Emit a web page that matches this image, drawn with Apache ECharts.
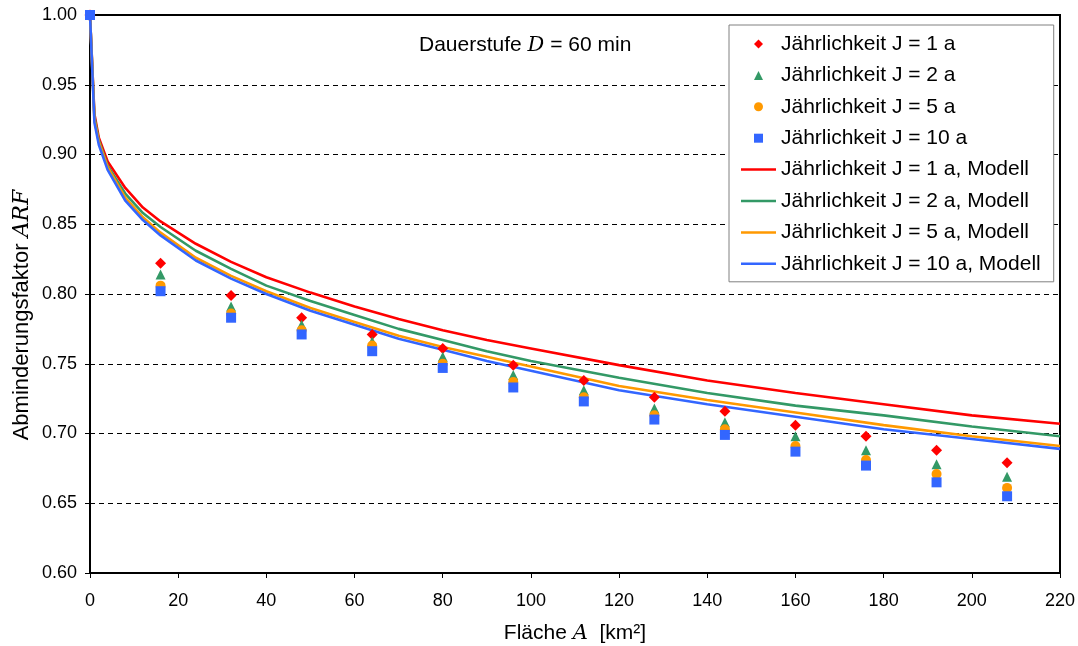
<!DOCTYPE html>
<html>
<head>
<meta charset="utf-8">
<script src="https://cdn.jsdelivr.net/npm/echarts@6/dist/echarts.min.js"></script>
<style>
html,body{margin:0;padding:0;background:#fff;}
#c{width:1078px;height:646px;}
</style>
</head>
<body>
<div id="c"></div>
<script>
// ---- Data ----
const pointArea = [0, 16, 32, 48, 64, 80, 96, 112, 128, 144, 160, 176, 192, 208];
const obsJ1  = [1.000, 0.822, 0.799, 0.783, 0.771, 0.761, 0.749, 0.738, 0.726, 0.716, 0.706, 0.698, 0.688, 0.679];
const obsJ2  = [1.000, 0.814, 0.791, 0.778, 0.766, 0.755, 0.742, 0.731, 0.718, 0.708, 0.698, 0.688, 0.678, 0.669];
const obsJ5  = [1.000, 0.806, 0.786, 0.774, 0.763, 0.750, 0.737, 0.726, 0.713, 0.703, 0.691, 0.681, 0.671, 0.661];
const obsJ10 = [1.000, 0.802, 0.783, 0.771, 0.759, 0.747, 0.733, 0.723, 0.710, 0.699, 0.687, 0.677, 0.665, 0.655];

const modelArea = [0, 1, 2, 4, 8, 12, 16, 24, 32, 40, 50, 60, 70, 80, 90, 100, 120, 140, 160, 180, 200, 220];
const modJ1  = [1.000, 0.929, 0.912, 0.895, 0.876, 0.862, 0.852, 0.836, 0.823, 0.812, 0.801, 0.791, 0.782, 0.774, 0.767, 0.761, 0.749, 0.738, 0.729, 0.721, 0.713, 0.707];
const modJ2  = [1.000, 0.927, 0.910, 0.892, 0.872, 0.858, 0.848, 0.831, 0.818, 0.806, 0.795, 0.785, 0.775, 0.767, 0.759, 0.752, 0.740, 0.729, 0.720, 0.713, 0.705, 0.698];
const modJ5  = [1.000, 0.925, 0.909, 0.891, 0.869, 0.855, 0.844, 0.826, 0.813, 0.802, 0.790, 0.780, 0.770, 0.762, 0.755, 0.748, 0.734, 0.724, 0.715, 0.706, 0.698, 0.691];
const modJ10 = [1.000, 0.923, 0.907, 0.889, 0.867, 0.853, 0.842, 0.824, 0.811, 0.800, 0.788, 0.778, 0.768, 0.760, 0.752, 0.745, 0.731, 0.721, 0.712, 0.703, 0.696, 0.689];

const obsNames = ['Jährlichkeit J = 1 a', 'Jährlichkeit J = 2 a', 'Jährlichkeit J = 5 a', 'Jährlichkeit J = 10 a'];
const modNames = ['Jährlichkeit J = 1 a, Modell', 'Jährlichkeit J = 2 a, Modell', 'Jährlichkeit J = 5 a, Modell', 'Jährlichkeit J = 10 a, Modell'];
const colors = ['#FF0000', '#339966', '#FF9900', '#3366FF'];
const symbols = ['diamond', 'triangle', 'circle', 'rect'];
const symbolSizes = [11, 10, 10, 10];
const legendIcons = [
  'path://M0,-1L1,0L0,1L-1,0Z',
  'path://M0,-1L1,1L-1,1Z',
  'circle',
  'path://M0,0L1,0L1,1L0,1Z'
];
const lineIcon = 'path://M0,0L35,0L35,2.5L0,2.5Z';

function pairs(xs, ys) { return xs.map((x, i) => [x, ys[i]]); }

const FONT = 'Liberation Sans, Arial, sans-serif';
const SERIF = 'DejaVu Serif, Liberation Serif, serif';
const BIG = 21;
const obsData = [obsJ1, obsJ2, obsJ5, obsJ10];
const modData = [modJ1, modJ2, modJ5, modJ10];

const series = [];
modData.forEach((d, i) => {
  series.push({
    name: modNames[i], type: 'line', data: pairs(modelArea, d),
    symbol: 'none', smooth: false,
    lineStyle: { color: colors[i], width: 2.6 }, itemStyle: { color: colors[i] },
    z: 2, animation: false
  });
});
obsData.forEach((d, i) => {
  series.push({
    name: obsNames[i], type: 'scatter', data: pairs(pointArea, d),
    symbol: symbols[i], symbolSize: symbolSizes[i],
    itemStyle: { color: colors[i], opacity: 1 }, z: 3 + i, animation: false
  });
});

const legendData = obsNames.map((n, i) => ({ name: n, icon: legendIcons[i], itemStyle: { color: colors[i] } }))
  .concat(modNames.map((n, i) => ({ name: n, icon: lineIcon, itemStyle: { color: colors[i] } })));

function rich(size) {
  return {
    n: { fontFamily: FONT, fontSize: size, fill: '#000', color: '#000', fontWeight: 'normal' },
    i: { fontFamily: SERIF, fontStyle: 'italic', fontSize: size, fill: '#000', color: '#000', fontWeight: 'normal' }
  };
}

const chart = echarts.init(document.getElementById('c'), null, { renderer: 'canvas' });
chart.setOption({
  animation: false,
  textStyle: { fontFamily: FONT },
  grid: { left: 90, right: 18, top: 15, bottom: 73, show: true, borderColor: '#000', borderWidth: 2, backgroundColor: 'transparent', outerBoundsMode: 'none', containLabel: false },
  title: {
    left: 414, top: 30,
    text: '{n|Dauerstufe }{i|D}{n| = 60 min}',
    textStyle: { fontWeight: 'normal', rich: rich(BIG) }
  },
  graphic: [{
    type: 'text', x: 22, y: 315, rotation: Math.PI / 2,
    style: {
      text: '{n|Abminderungsfaktor }{i|ARF}',
      rich: rich(22), align: 'center', verticalAlign: 'middle'
    }
  }],
  legend: {
    orient: 'vertical', left: 729, top: 25,
    data: legendData,
    backgroundColor: '#fff', borderColor: '#808080', borderWidth: 1,
    padding: [8, 13, 7, 12],
    itemWidth: 35, itemHeight: 9, itemGap: 9.4,
    symbolKeepAspect: true,
    textStyle: { fontFamily: FONT, fontSize: BIG, color: '#000', lineHeight: 22 },
    z: 10
  },
  xAxis: {
    type: 'value', min: 0, max: 220, interval: 20,
    name: '{n|Fläche }{i|A}{n|  [km²]}', nameLocation: 'middle', nameGap: 50,
    nameTextStyle: { rich: rich(BIG) },
    axisLine: { show: true, onZero: false, lineStyle: { color: '#000', width: 2 } },
    axisTick: { show: true, inside: false, length: 5, lineStyle: { color: '#000', width: 1 } },
    axisLabel: { color: '#000', fontSize: 18, fontFamily: FONT, margin: 19 },
    splitLine: { show: false }
  },
  yAxis: {
    type: 'value', min: 0.6, max: 1.0, interval: 0.05,
    axisLine: { show: true, lineStyle: { color: '#000', width: 2 } },
    axisTick: { show: true, inside: false, length: 5, lineStyle: { color: '#000', width: 1 } },
    axisLabel: { color: '#000', fontSize: 18, fontFamily: FONT, margin: 13, formatter: v => v.toFixed(2) },
    splitLine: { show: true, lineStyle: { color: '#000', width: 1, type: [5, 4] } }
  },
  series: series
});
</script>
</body>
</html>
